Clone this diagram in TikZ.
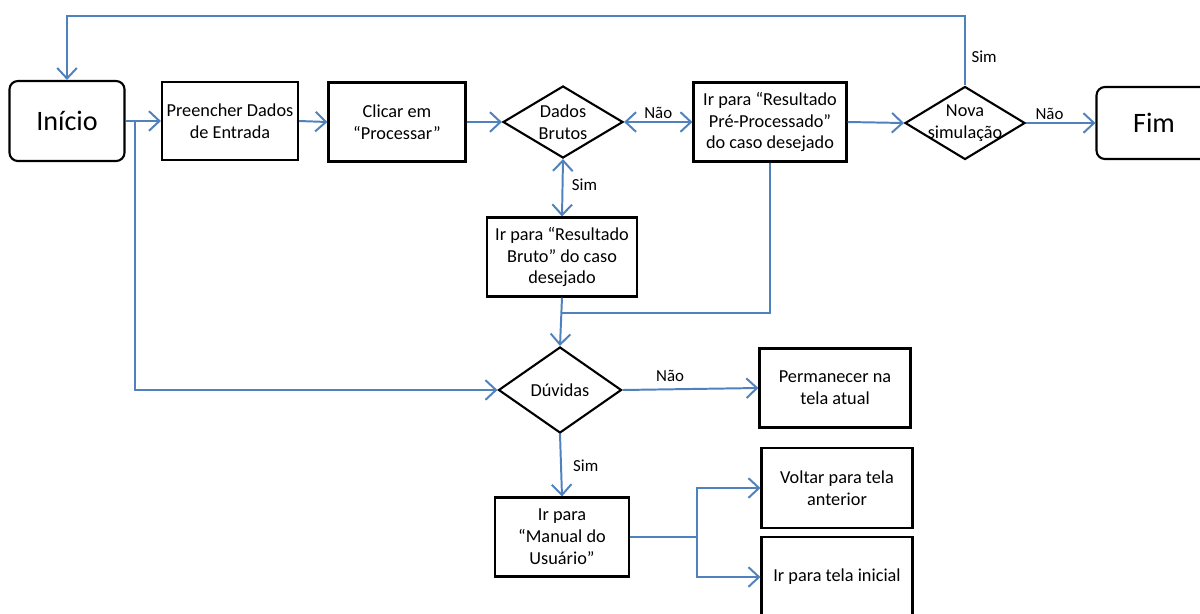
\documentclass[tikz,border=0pt]{standalone}
\usepackage{fontspec}
\setmainfont{Carlito}
\usetikzlibrary{shapes.geometric,arrows.meta}
\definecolor{linkblue}{HTML}{4F81BD}

\begin{document}
\begin{tikzpicture}[x=0.025cm, y=-0.025cm,
    box/.style={draw, line width=1.5pt, align=center, inner sep=0pt, font=\fontsize{13}{15.6}\selectfont},
    ends/.style={box, rounded corners=6pt, font=\fontsize{20}{24}\selectfont},
    decision/.style={draw, line width=1.5pt, diamond, inner sep=0pt},
    dtext/.style={align=center, inner sep=0pt, font=\fontsize{13}{15.6}\selectfont},
    lbl/.style={font=\fontsize{12}{14}\selectfont, inner sep=2pt},
    link/.style={draw=linkblue, line width=1.4pt},
    >={Straight Barb[length=7.5pt, width=14pt, line width=1.4pt]}]
    \useasboundingbox (0,0) rectangle (1200,613);

    % first row
    \node[ends, minimum width=2.875cm, minimum height=2cm] (inicio) at (67,121) {Início};
    \node[box, minimum width=3.4cm, minimum height=1.95cm] (preencher) at (230,121) {Preencher Dados\\de Entrada};
    \node[box, minimum width=3.425cm, minimum height=1.975cm] (clicar) at (397,122) {Clicar em\\“Processar”};
    \node[decision, minimum width=3cm, minimum height=1.8cm] (dados) at (563,122) {};
    \node[dtext] (dadosT) at (dados) {Dados\\Brutos};
    \node[box, minimum width=3.825cm, minimum height=1.975cm] (pre) at (770,122) {Ir para “Resultado\\Pré-Processado”\\do caso desejado};
    \node[decision, minimum width=3cm, minimum height=1.825cm] (nova) at (965,123) {};
    \node[dtext] (novaT) at (nova) {Nova\\simulação};
    \node[ends, minimum width=2.875cm, minimum height=1.8cm] (fim) at (1154,123) {Fim};

    % middle
    \node[box, minimum width=3.75cm, minimum height=1.975cm] (bruto) at (562,257) {Ir para “Resultado\\Bruto” do caso\\desejado};
    \node[decision, minimum width=3.075cm, minimum height=2.15cm] (duvidas) at (560,390) {};
    \node[dtext] (duvidasT) at (duvidas) {Dúvidas};
    \node[box, minimum width=3.775cm, minimum height=1.975cm] (perm) at (835,388) {Permanecer na\\tela atual};

    % bottom
    \node[box, minimum width=3.35cm, minimum height=1.975cm] (manual) at (562,537) {Ir para\\“Manual do\\Usuário”};
    \node[box, minimum width=3.775cm, minimum height=2cm] (voltar) at (837,488) {Voltar para tela\\anterior};
    \node[box, minimum width=3.775cm, minimum height=2cm] (inicial) at (837,577) {Ir para tela inicial};

    \coordinate (j1) at (135,121);
    \coordinate (j2) at (561,313);
    \coordinate (j3) at (697,537);
    \coordinate (topo) at (500,16);

    \draw[link, ->] (inicio.east) -- (preencher.west);
    \draw[link, ->] (preencher.east) -- (clicar.west);
    \draw[link, ->] (clicar.east) -- (dados.west);
    \draw[link, <->] (dados.east) -- node[lbl, above] (nao1) {Não} (pre.west);
    \draw[link, <->] (dados.south) -- node[lbl, right, xshift=4pt, yshift=2pt] (sim1) {Sim} (bruto.north);
    \draw[link, ->] (pre.east) -- (nova.west);
    \draw[link, ->] (nova.east) -- node[lbl, above, xshift=-8pt] (nao2) {Não} (fim.west);
    \draw[link, ->] (nova.north) -- node[lbl, right, xshift=2pt, pos=0.42] (sim2) {Sim} (nova.north |- topo) -| (inicio.north);
    \draw[link, ->] (j1) |- (duvidas.west);
    \draw[link] (pre.south) |- (j2);
    \draw[link, ->] (bruto.south) -- (duvidas.north);
    \draw[link, ->] (duvidas.east) -- node[lbl, above, pos=0.35, yshift=3pt] (nao3) {Não} (perm.west);
    \draw[link, ->] (duvidas.south) -- node[lbl, right, xshift=6pt] (sim3) {Sim} (manual.north);
    \draw[link] (manual.east) -- (j3);
    \draw[link, ->] (j3) |- (voltar.west);
    \draw[link, ->] (j3) |- (inicial.west);
\end{tikzpicture}
\end{document}
